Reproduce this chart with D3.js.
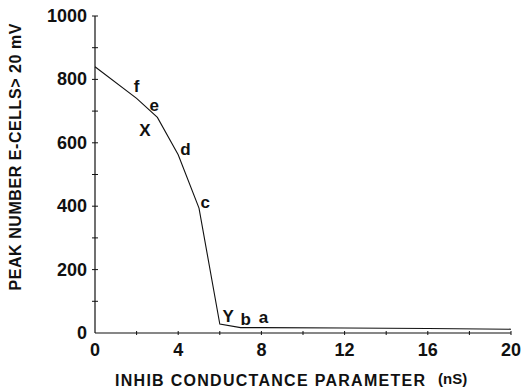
<!DOCTYPE html>
<html>
<head>
<meta charset="utf-8">
<script src="https://cdn.jsdelivr.net/npm/d3@7"></script>
<style>
  body { margin: 0; background: #fff; }
  text { font-family: "Liberation Sans", Arial, sans-serif; fill: #111; }
</style>
</head>
<body>
<div id="chart"></div>
<script>
// values
var conductance = [0, 2, 3, 4, 5, 6, 7, 8, 12, 16, 20]
var peakCells = [840, 740, 680, 562, 394, 28, 17, 17, 16, 14, 12]

var pointNames = ['f', 'e', 'X', 'd', 'c', 'Y', 'b', 'a']
var pointX = [2.0, 2.85, 2.4, 4.35, 5.3, 6.4, 7.25, 8.1]
var pointY = [760, 700, 620, 560, 395, 35, 25, 30]

var xTicks = [0, 4, 8, 12, 16, 20]
var yTicks = [0, 200, 400, 600, 800, 1000]

var W = 523, H = 388
var x0 = 95, x1 = 511, yTop = 16, yBot = 333

var svg = d3.select('#chart').append('svg')
  .attr('width', W)
  .attr('height', H)

var x = d3.scaleLinear().domain([0, 20]).range([x0, x1])
var y = d3.scaleLinear().domain([0, 1000]).range([yBot, yTop])

// y axis: line + small crosses every 100
var yAxis = svg.append('g').attr('transform', 'translate(' + x0 + ',0)')
yAxis.append('line')
  .attr('y1', y(0)).attr('y2', y(1000))
  .attr('stroke', '#111').attr('stroke-width', 1.2)
yAxis.selectAll('.ytick')
  .data(d3.range(100, 1001, 100))
  .enter().append('line')
  .attr('x1', -3).attr('x2', 3)
  .attr('y1', function(d){ return y(d) }).attr('y2', function(d){ return y(d) })
  .attr('stroke', '#111').attr('stroke-width', 1)
yAxis.selectAll('.ylab')
  .data(yTicks)
  .enter().append('text')
  .attr('x', -8)
  .attr('y', function(d){ return y(d) + 6 })
  .attr('text-anchor', 'end')
  .style('font-size', '18px')
  .style('font-weight', 'bold')
  .text(function(d){ return d })

// x axis
var xAxis = svg.append('g').attr('transform', 'translate(0,' + yBot + ')')
xAxis.append('line')
  .attr('x1', x(0)).attr('x2', x(20))
  .attr('stroke', '#111').attr('stroke-width', 1.2)
xAxis.selectAll('.xtick')
  .data(d3.range(2, 21, 2))
  .enter().append('line')
  .attr('x1', function(d){ return x(d) }).attr('x2', function(d){ return x(d) })
  .attr('y1', -2).attr('y2', 2)
  .attr('stroke', '#111').attr('stroke-width', 1)
xAxis.selectAll('.xlab')
  .data(xTicks)
  .enter().append('text')
  .attr('x', function(d){ return x(d) })
  .attr('y', 23)
  .attr('text-anchor', 'middle')
  .style('font-size', '18px')
  .style('font-weight', 'bold')
  .text(function(d){ return d })

// curve
var line = d3.line()
  .x(function(d){ return x(d[0]) })
  .y(function(d){ return y(d[1]) })

svg.append('path')
  .datum(d3.zip(conductance, peakCells))
  .attr('d', line)
  .attr('fill', 'none')
  .attr('stroke', '#111')
  .attr('stroke-width', 1.1)

// point letters
svg.selectAll('.pt')
  .data(d3.zip(pointNames, pointX, pointY))
  .enter().append('text')
  .attr('x', function(d){ return x(d[1]) })
  .attr('y', function(d){ return y(d[2]) })
  .attr('text-anchor', 'middle')
  .style('font-size', '17px')
  .style('font-weight', 'bold')
  .text(function(d){ return d[0] })

// titles
svg.append('text')
  .attr('transform', 'translate(21,157) rotate(-90)')
  .attr('text-anchor', 'middle')
  .attr('textLength', 267)
  .style('font-size', '16px')
  .style('font-weight', 'bold')
  .text('PEAK NUMBER E-CELLS> 20 mV')

svg.append('text')
  .attr('x', 115)
  .attr('y', 386)
  .attr('textLength', 310)
  .style('font-size', '16px')
  .style('font-weight', 'bold')
  .text('INHIB CONDUCTANCE PARAMETER')

svg.append('text')
  .attr('x', 438)
  .attr('y', 384)
  .style('font-size', '15px')
  .style('font-weight', 'bold')
  .text('(nS)')
</script>
</body>
</html>
